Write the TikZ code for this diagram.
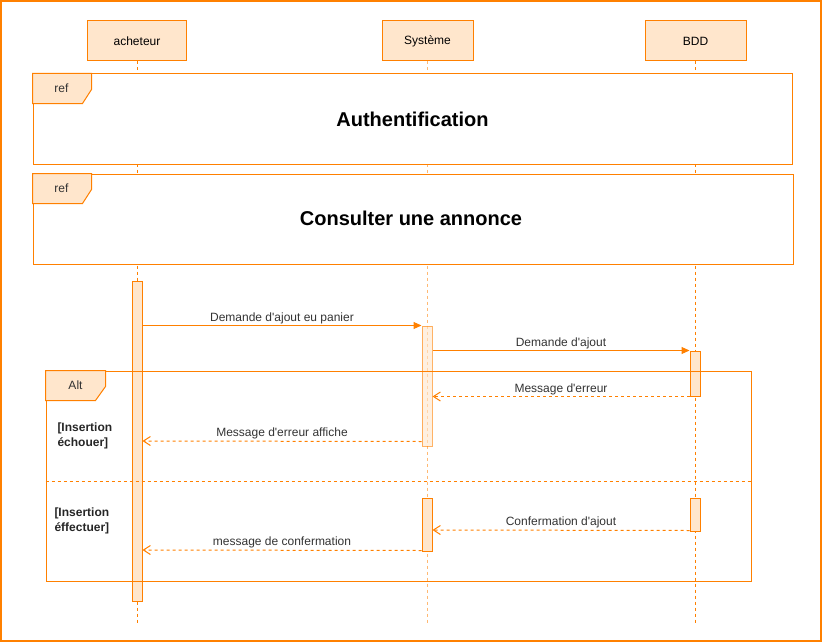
\documentclass[tikz,border=0pt]{standalone}
\usepackage{fontspec}
\setmainfont{Liberation Sans}[Ligatures=TeXOff]
\usetikzlibrary{arrows.meta}
\definecolor{orng}{HTML}{FF8000}
\definecolor{peach}{HTML}{FFE6CC}
\def\plist{{137/ach/99/acheteur}, {427.5/sys/91/Système}, {695.5/bdd/101/BDD}}
\tikzstyle{actor}=[draw=orng, fill=peach, minimum height=40pt, inner sep=0pt, font=\fontsize{12}{14}\selectfont]
\tikzstyle{lifeline}=[draw=orng, dash pattern=on 3pt off 3pt]
\tikzstyle{activ}=[draw=orng, fill=peach, minimum width=10pt, inner sep=0pt]
\tikzstyle{frame}=[draw=orng, fill=white, inner sep=0pt]
\tikzstyle{tab}=[draw=orng, fill=peach]
\tikzstyle{msg}=[draw=orng, -{Triangle[length=8pt,width=7pt]}]
\tikzstyle{reply}=[draw=orng, dash pattern=on 3pt off 3pt, -{Straight Barb[length=7pt,width=9pt]}]
\tikzstyle{lbl}=[above, inner sep=1.5pt, text=black!80, font=\fontsize{12}{14}\selectfont]
\tikzstyle{guard}=[anchor=west, align=left, inner sep=0pt, text=black!85, font=\bfseries\fontsize{12}{15}\selectfont]

\begin{document}
\begin{tikzpicture}[x=1pt, y=-1pt, line width=1pt]
  \useasboundingbox (0,0) rectangle (822,642);
  \draw[orng, line width=2pt] (1,1) rectangle (821,641);

  % participants and lifelines
  \foreach \x/\name/\w/\txt in \plist {
    \node[actor, minimum width=\w pt] (\name) at (\x,41) {\txt};
  }
  \draw[lifeline] (ach.south) -- ++(0,561);
  \draw[lifeline, draw opacity=0.55] (sys.south) -- ++(0,561);
  \draw[lifeline] (bdd.south) -- ++(0,561);

  % ref frames
  \node[frame, minimum width=759pt, minimum height=90pt] (ref1) at (412.5,119) {};
  \node[frame, minimum width=760pt, minimum height=90pt] (ref2) at (413,219) {};
  \foreach \fr in {ref1, ref2} {
    \path[tab] (\fr.north west) -- ++(59,0) -- ++(0,16) -- ++(-9,14) -- ++(-50,0) -- cycle;
    \node[font=\fontsize{12}{14}\selectfont, text=black!80] (\fr tag) at ([shift={(29,15)}]\fr.north west) {ref};
  }
  \node[font=\bfseries\fontsize{20}{24}\selectfont] (ttl1) at (ref1) {Authentification};
  \node[font=\bfseries\fontsize{20}{24}\selectfont] (ttl2) at ([xshift=-2pt,yshift=1pt]ref2) {Consulter une annonce};

  % activations
  \node[activ, minimum height=320pt] (actA) at (137,441) {};
  \node[activ, minimum height=120pt, opacity=0.6] (actS1) at (427,386) {};
  \node[activ, minimum height=45pt] (actB1) at (695,373.5) {};
  \node[activ, minimum height=53pt] (actS2) at (427,524.5) {};
  \node[activ, minimum height=33pt] (actB2) at (695,514.5) {};

  % alt frame
  \node[draw=orng, minimum width=705pt, minimum height=210pt, inner sep=0pt] (alt) at (398.5,476) {};
  \path[tab] (alt.north west) -- ++(60,0) -- ++(0,16) -- ++(-10,14) -- ++(-50,0) -- cycle;
  \node[font=\fontsize{12}{14}\selectfont, text=black!80] (alttag) at ([shift={(30,15)}]alt.north west) {Alt};
  \draw[lifeline] (alt.west |- 0,481) -- (alt.east |- 0,481);
  \node[guard] (guard1) at (57,436) {[Insertion\\échouer]};
  \node[guard] (guard2) at (54,521) {[Insertion\\éffectuer]};

  % messages
  \draw[msg] (actA.east |- actS1.north) -- node[lbl] {Demande d'ajout eu panier} (actS1.north west);
  \draw[msg] (actS1.east |- actB1.north) -- node[lbl] {Demande d'ajout} (actB1.north west);
  \draw[reply] (actB1.south west) -- node[lbl] {Message d'erreur} (actS1.east |- actB1.south);
  \draw[reply] ([yshift=5pt]actS1.south west) -- node[lbl] {Message d'erreur affiche} (actA.east |- 0,441);
  \draw[reply] ([yshift=1pt]actB2.south west) -- node[lbl] {Confermation d'ajout} (actS2.east |- 0,530);
  \draw[reply] ([yshift=1pt]actS2.south west) -- node[lbl] {message de confermation} (actA.east |- 0,550);
\end{tikzpicture}
\end{document}
